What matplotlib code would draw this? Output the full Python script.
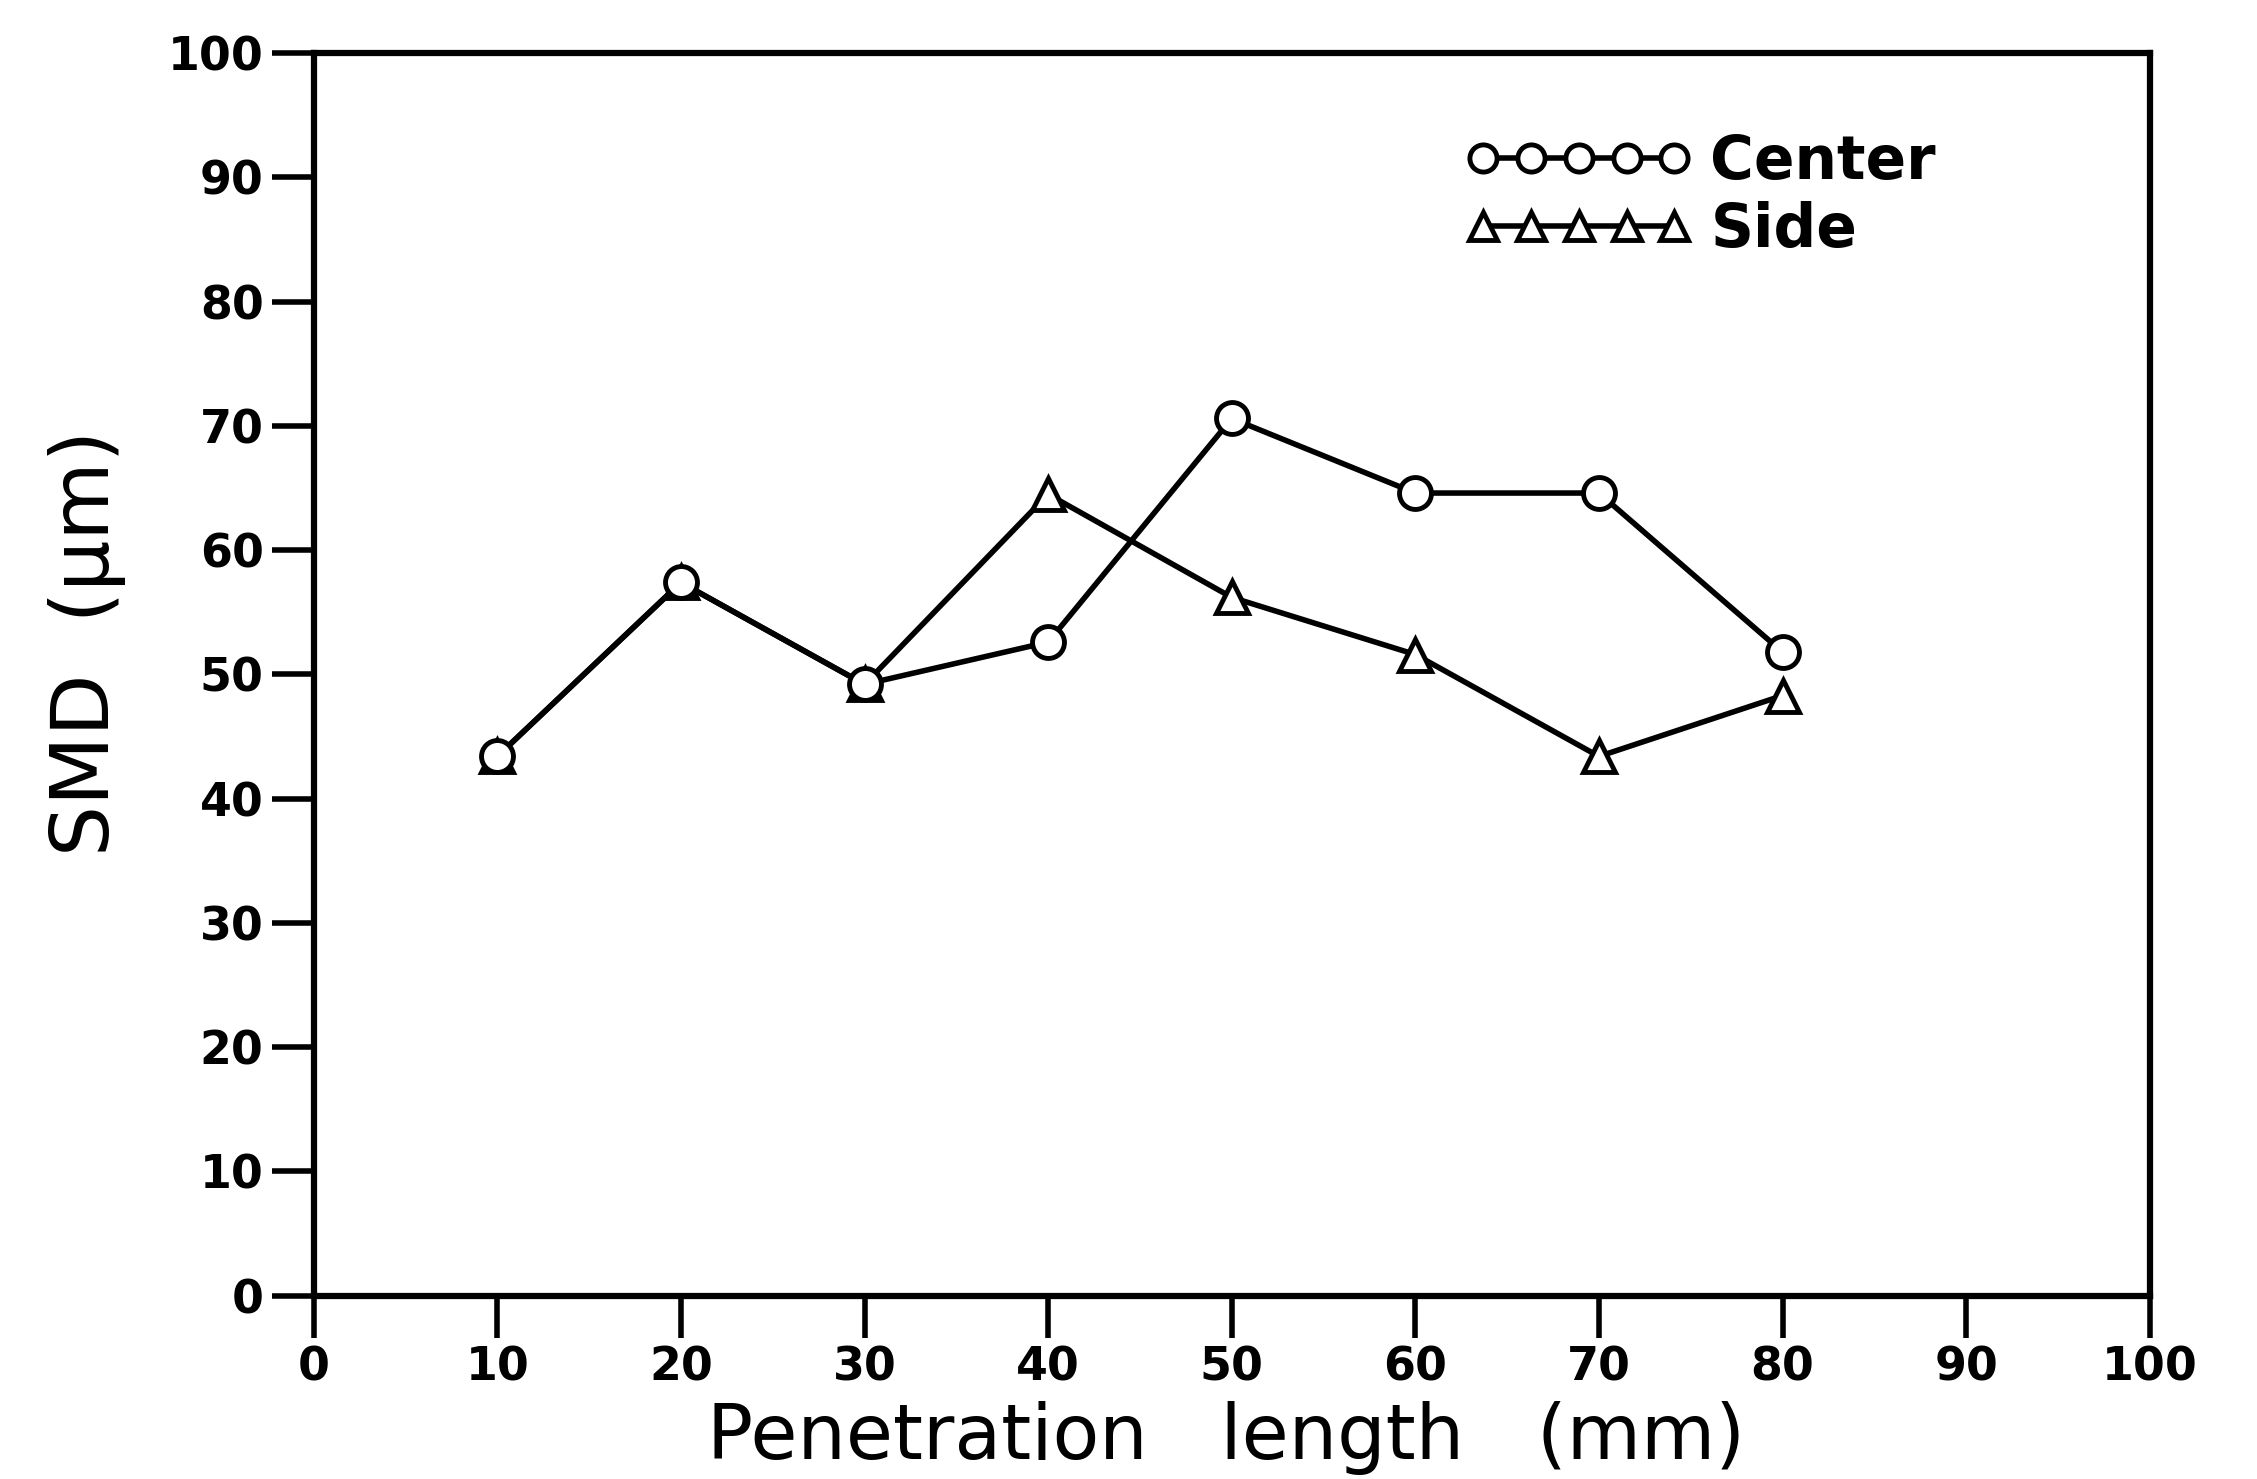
import matplotlib
matplotlib.use('Agg')
import matplotlib.pyplot as plt

# penetration length (mm)
length = [10, 20, 30, 40, 50, 60, 70, 80]
# SMD (um)
smd_center = [43.4, 57.4, 49.2, 52.6, 70.6, 64.6, 64.6, 51.8]
smd_side = [43.4, 57.4, 49.2, 64.5, 56.2, 51.6, 43.4, 48.3]

xticks = [0, 10, 20, 30, 40, 50, 60, 70, 80, 90, 100]
yticks = [0, 10, 20, 30, 40, 50, 60, 70, 80, 90, 100]

fig = plt.figure(figsize=(22.57, 14.79), dpi=100)
ax = fig.add_axes([0.139, 0.124, 0.8135, 0.84])

ax.plot(length, smd_side, color='black', linewidth=4, marker='^', markersize=23,
        markerfacecolor='white', markeredgecolor='black', markeredgewidth=3.5, label='Side')
ax.plot(length, smd_center, color='black', linewidth=4, marker='o', markersize=23,
        markerfacecolor='white', markeredgecolor='black', markeredgewidth=3.5, label='Center')

ax.set_xlim(0, 100)
ax.set_ylim(0, 100)
ax.set_xticks(xticks)
ax.set_yticks(yticks)
ax.set_xticklabels([str(t) for t in xticks], fontsize=33, fontweight='bold')
ax.set_yticklabels([str(t) for t in yticks], fontsize=33, fontweight='bold')
ax.tick_params(direction='out', length=30, width=4, pad=6)
for sp in ax.spines.values():
  sp.set_linewidth(4.5)

ax.set_xlabel("Penetration   length   (mm)", fontsize=55)
ax.xaxis.set_label_coords(0.497, -0.085)
ax.set_ylabel("SMD  (\u03bcm)", fontsize=58)
ax.yaxis.set_label_coords(-0.102, 0.525)

h, l = ax.get_legend_handles_labels()
leg = ax.legend([h[1], h[0]], [l[1], l[0]], loc='upper left', bbox_to_anchor=(0.611, 0.96),
                numpoints=5, handlelength=3.8, markerscale=0.85, frameon=False, borderpad=0,
                prop={'size': 43, 'weight': 'bold'}, handletextpad=0.3, labelspacing=0.15)

fig.savefig('out.png', dpi=100)
